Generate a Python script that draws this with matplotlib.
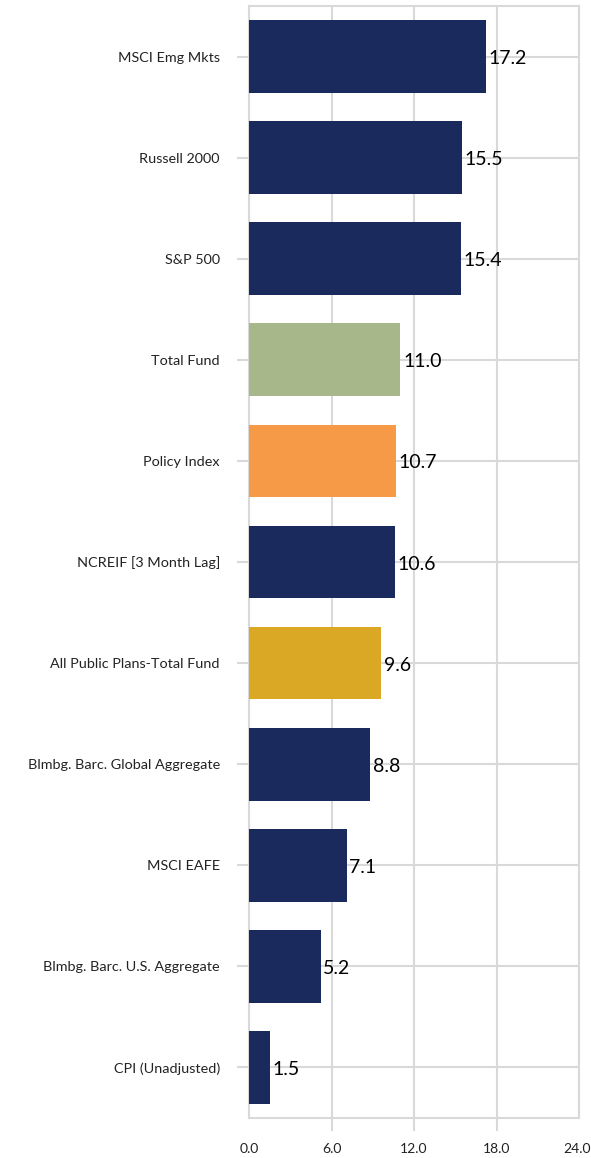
import matplotlib
matplotlib.use("Agg")
import matplotlib.pyplot as plt
import matplotlib.transforms as mtransforms

plt.rcParams['font.family'] = ['Lato', 'DejaVu Sans']

categories = ["MSCI Emg Mkts", "Russell 2000", "S&P 500", "Total Fund", "Policy Index",
              "NCREIF [3 Month Lag]", "All Public Plans-Total Fund",
              "Blmbg. Barc. Global Aggregate", "MSCI EAFE",
              "Blmbg. Barc. U.S. Aggregate", "CPI (Unadjusted)"]
values = [17.2, 15.5, 15.4, 11.0, 10.7, 10.6, 9.6, 8.8, 7.1, 5.2, 1.5]
colors = ["#1B2A5C", "#1B2A5C", "#1B2A5C", "#A8B78A", "#F79A48", "#1B2A5C",
          "#DAA824", "#1B2A5C", "#1B2A5C", "#1B2A5C", "#1B2A5C"]
xticks = [0, 6, 12, 18, 24]
xticklabels = ["0.0", "6.0", "12.0", "18.0", "24.0"]

fig = plt.figure(figsize=(5.91, 11.58), dpi=100)
ax = fig.add_axes([249/591, 40/1158, 330/591, 1112/1158])

ypos = list(range(len(categories)))
bars = ax.barh(ypos, values, height=0.72, color=colors, zorder=3)
ax.set_ylim(len(categories) - 0.5, -0.5)
ax.set_xlim(0, 24)

grid_c = "#D9D9D9"
ax.set_xticks(xticks)
ax.set_xticklabels(xticklabels, fontsize=10, color='#222222')
ax.set_yticks(ypos)
ax.set_yticklabels(categories, fontsize=10.4, color='#222222')
ax.tick_params(axis='y', length=9, width=1.5, color=grid_c, pad=12)
ax.tick_params(axis='x', length=9, width=1.5, color=grid_c, pad=9)
xt = ax.xaxis.get_major_ticks()
xt[0].tick1line.set_visible(False)
xt[-1].tick1line.set_visible(False)
lbl = ax.get_xticklabels()[-1]
lbl.set_transform(lbl.get_transform() + mtransforms.ScaledTranslation(-2/100, 0, fig.dpi_scale_trans))

ax.grid(True, color=grid_c, linewidth=1.5, zorder=0)
for s in ax.spines.values():
    s.set_color(grid_c)
    s.set_linewidth(1.5)

for b, v in zip(bars, values):
    ax.text(b.get_width() + 0.2, b.get_y() + b.get_height() / 2 + 0.02, f"{v:.1f}",
            va='center', ha='left', fontsize=14, color='#000000', zorder=4)

fig.savefig("out.png", dpi=100)
